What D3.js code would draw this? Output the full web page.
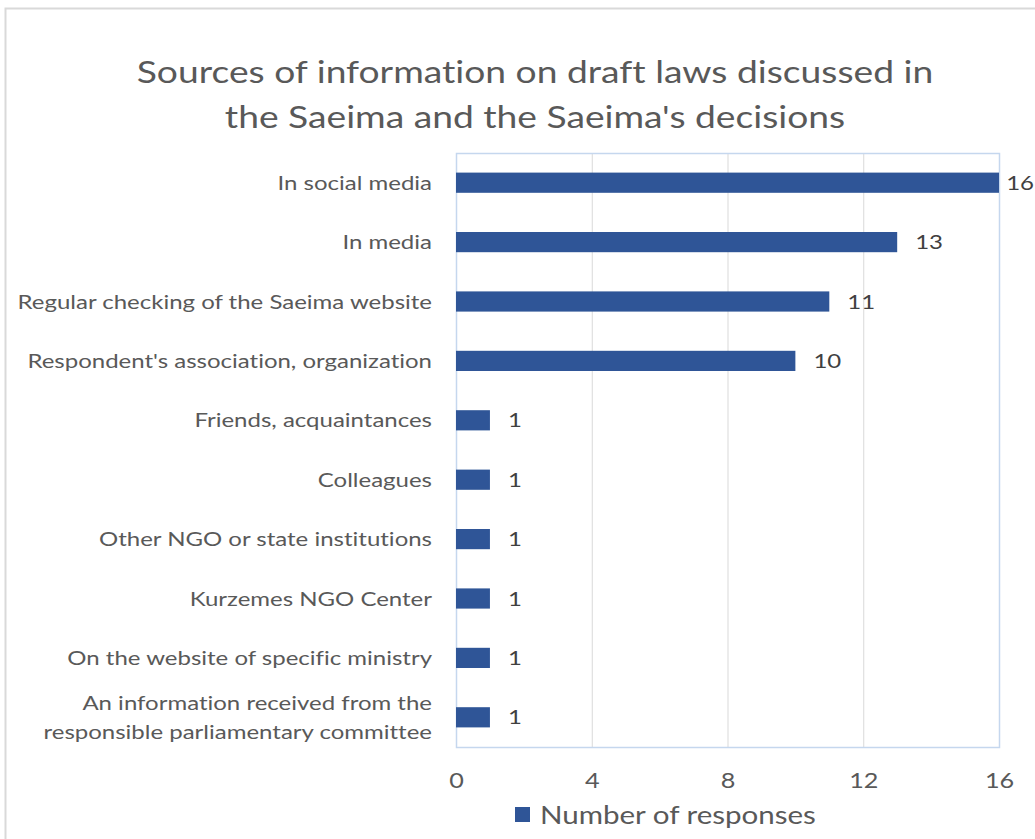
<!DOCTYPE html>
<html>
<head>
<meta charset="utf-8">
<script src="https://cdn.jsdelivr.net/npm/d3@7"></script>
<style>
  html, body { margin: 0; padding: 0; background: #ffffff; }
  svg { display: block; }
  text { font-variant-ligatures: none; font-feature-settings: "liga" 0; }
</style>
</head>
<body>
<script>
// Survey results: where respondents learn about draft laws in the Saeima
const categories = [
  "In social media",
  "In media",
  "Regular checking of the Saeima website",
  "Respondent's association, organization",
  "Friends, acquaintances",
  "Colleagues",
  "Other NGO or state institutions",
  "Kurzemes NGO Center",
  "On the website of specific ministry",
  "An information received from the\nresponsible parliamentary committee"
];
const responses = [16, 13, 11, 10, 1, 1, 1, 1, 1, 1];
const tickValues = [0, 4, 8, 12, 16];
const titleLines = [
  "Sources of information on draft laws discussed  in",
  "the Saeima and the Saeima's decisions"
];
const seriesName = "Number of responses";

const W = 1035, H = 839;
const plot = { left: 456, right: 999, top: 153, bottom: 747 };
const barColor = "#2f5597";
const textColor = "#595959";
const font = "Lato, 'Open Sans', sans-serif";
const sx = 1.2; // glyphs are drawn slightly wide

const svg = d3.select("body").append("svg")
  .attr("width", W).attr("height", H);

// position a text node at (px, py) with horizontally widened glyphs
function place(sel, px, py) {
  sel.attr("x", 0).attr("y", 0)
    .attr("transform", `translate(${px},${py}) scale(${sx},1)`);
}

// chart frame
svg.append("path")
  .attr("d", `M5.5,${H} L5.5,8.5 L${W},8.5`)
  .attr("fill", "none").attr("stroke", "#d9d9d9").attr("stroke-width", 2);

// title
svg.append("g").selectAll("text").data(titleLines).join("text")
  .attr("text-anchor", "middle")
  .attr("font-family", font)
  .attr("font-size", 31)
  .attr("fill", textColor)
  .text(d => d)
  .each(function(d, i) { place(d3.select(this), 535, 83 + i * 45); });

const x = d3.scaleLinear().domain([0, 16]).range([plot.left, plot.right]);
const y = d3.scaleBand().domain(categories)
  .range([plot.top, plot.bottom]).paddingInner(0.66).paddingOuter(0.33);

// vertical gridlines
svg.append("g").selectAll("line").data(tickValues.slice(1, -1)).join("line")
  .attr("x1", d => x(d) + 0.5).attr("x2", d => x(d) + 0.5)
  .attr("y1", plot.top).attr("y2", plot.bottom)
  .attr("stroke", "#d9d9d9").attr("stroke-width", 1);

// plot area border
svg.append("rect")
  .attr("x", plot.left + 0.5).attr("y", plot.top + 0.5)
  .attr("width", plot.right - plot.left).attr("height", plot.bottom - plot.top)
  .attr("fill", "none").attr("stroke", "#c5d7ee").attr("stroke-width", 1.5);

// bars
svg.append("g").selectAll("rect").data(categories).join("rect")
  .attr("x", x(0))
  .attr("y", d => y(d))
  .attr("width", (d, i) => x(responses[i]) - x(0))
  .attr("height", y.bandwidth())
  .attr("fill", barColor);

// value labels, kept inside the chart edge
svg.append("g").selectAll("text").data(categories).join("text")
  .attr("dy", "0.35em")
  .attr("font-family", font)
  .attr("font-size", 20)
  .attr("fill", "#404040")
  .text((d, i) => responses[i])
  .each(function(d, i) {
    const w = this.getComputedTextLength() * sx;
    const px = Math.min(x(responses[i]) + 18, W - w - 1);
    place(d3.select(this), px, y(d) + y.bandwidth() / 2);
  });

// category labels
svg.append("g").selectAll("text").data(categories).join("text")
  .attr("text-anchor", "end")
  .attr("font-family", font)
  .attr("font-size", 20)
  .attr("fill", textColor)
  .each(function(d) {
    const lines = d.split("\n");
    const cy = y(d) + y.bandwidth() / 2;
    const lh = 29;
    const t = d3.select(this);
    place(t, 432, cy);
    lines.forEach((ln, i) => {
      t.append("tspan")
        .attr("x", 0)
        .attr("y", (i - (lines.length - 1) / 2) * lh)
        .attr("dy", "0.35em")
        .text(ln);
    });
  });

// bottom axis labels
const xAxis = d3.axisBottom(x).tickValues(tickValues).tickSize(0).tickPadding(0);
const axisG = svg.append("g").attr("transform", `translate(0,${plot.bottom})`).call(xAxis);
axisG.select(".domain").remove();
axisG.selectAll(".tick text")
  .attr("font-family", font)
  .attr("font-size", 21)
  .attr("fill", textColor)
  .attr("dy", null)
  .attr("x", 0).attr("y", 0)
  .attr("transform", `translate(0,41) scale(${sx},1)`);

// legend
const legend = svg.append("g").attr("transform", "translate(515,815)");
legend.append("rect").attr("x", 0).attr("y", -8).attr("width", 15).attr("height", 15)
  .attr("fill", barColor);
legend.append("text")
  .attr("dy", "0.35em")
  .attr("font-family", font).attr("font-size", 24.6).attr("fill", textColor)
  .text(seriesName)
  .call(place, 25, 0);
</script>
</body>
</html>
